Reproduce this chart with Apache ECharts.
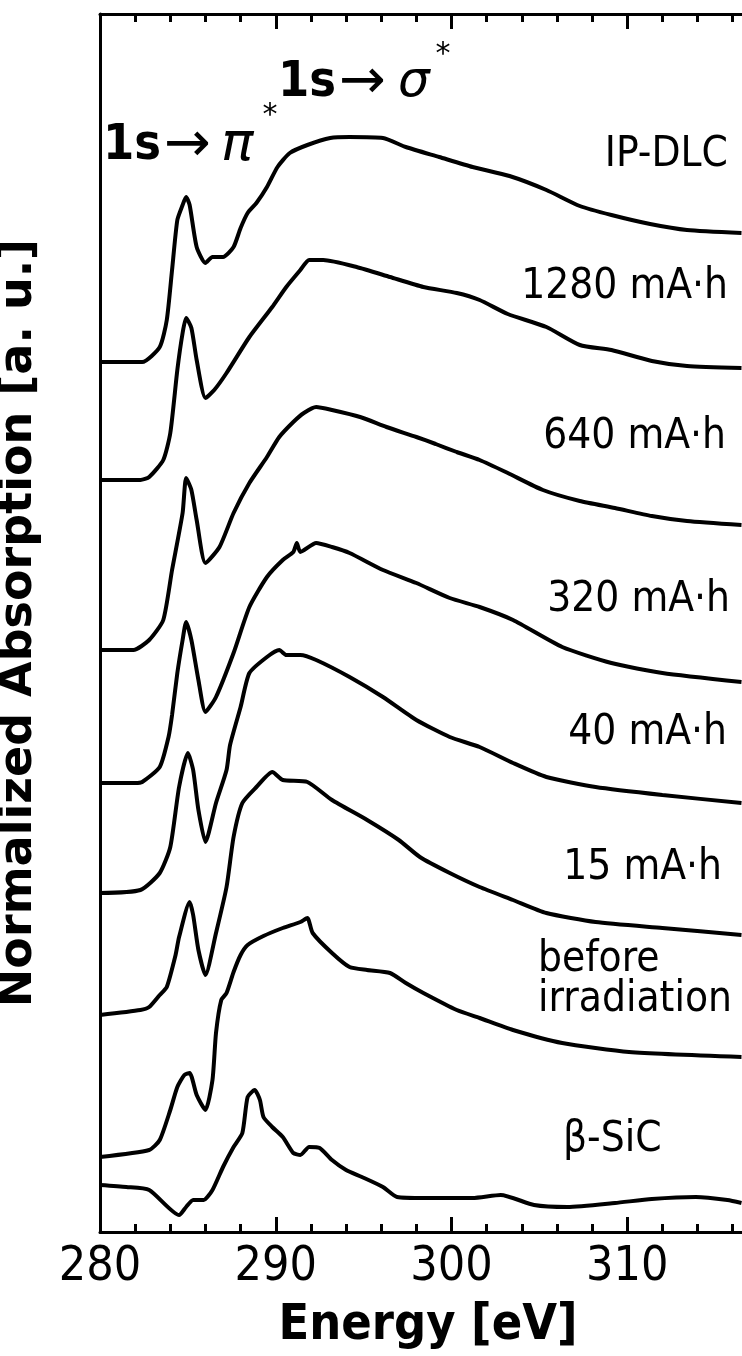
<!DOCTYPE html>
<html><head><meta charset="utf-8">
<script src="https://cdn.jsdelivr.net/npm/echarts@6/dist/echarts.min.js"></script>
<style>html,body{margin:0;padding:0;background:#fff}#c{width:742px;height:1356px}</style>
</head><body><div id="c"></div>
<script>
// Tick labels of the energy axis [eV]
const xTicks = [280, 290, 300, 310];
// Spectrum labels (top to bottom)
const labels = ['IP-DLC', '1280 mA·h', '640 mA·h', '320 mA·h', '40 mA·h', '15 mA·h', 'before\nirradiation', 'β-SiC'];

// Each spectrum: [energy eV, normalized absorption (offset), a.u.]
const ipdlc = [[280.0,8.70],[282.4,8.70],[283.4,8.85],[283.8,9.12],[284.1,9.62],[284.4,10.12],[284.7,10.27],[284.9,10.35],[285.1,10.27],[285.5,9.85],[286.0,9.69],[286.4,9.75],[287.0,9.75],[287.6,9.85],[288.0,10.04],[288.4,10.19],[288.9,10.29],[289.5,10.45],[290.1,10.65],[290.8,10.79],[291.8,10.87],[293.1,10.94],[294.2,10.95],[296.1,10.94],[297.4,10.85],[299.3,10.75],[301.2,10.65],[303.3,10.56],[305.4,10.42],[307.3,10.26],[309.1,10.17],[311.3,10.08],[313.4,10.02],[316.5,9.99]];
const mah1280 = [[280.0,7.52],[282.3,7.52],[282.8,7.55],[283.6,7.72],[284.0,7.99],[284.4,8.62],[284.7,8.99],[284.9,9.14],[285.2,9.04],[285.5,8.72],[286.0,8.34],[286.5,8.42],[287.2,8.59],[288.5,8.95],[289.8,9.25],[290.6,9.45],[291.4,9.62],[291.9,9.72],[292.7,9.72],[294.6,9.65],[296.5,9.55],[298.4,9.45],[300.3,9.39],[301.6,9.32],[303.2,9.18],[305.4,9.05],[307.3,8.87],[309.1,8.82],[311.4,8.71],[313.4,8.66],[316.5,8.64]];
const mah640 = [[280.0,5.82],[281.9,5.82],[282.8,5.92],[283.6,6.12],[284.1,6.62],[284.7,7.19],[284.9,7.54],[285.2,7.42],[285.5,7.12],[286.0,6.69],[286.8,6.85],[287.6,7.19],[288.5,7.49],[289.5,7.75],[290.2,7.95],[291.0,8.10],[291.6,8.19],[292.3,8.25],[293.2,8.22],[294.8,8.15],[296.3,8.05],[298.0,7.95],[299.1,7.88],[300.3,7.80],[301.6,7.72],[303.2,7.59],[305.2,7.42],[307.3,7.31],[309.3,7.24],[311.4,7.16],[313.4,7.11],[316.5,7.07]];
const mah320 = [[280.0,4.49],[282.0,4.49],[282.4,4.50],[283.4,4.65],[283.9,4.95],[284.1,5.17],[284.4,5.59],[284.7,5.92],[284.9,6.10],[285.2,5.92],[285.6,5.52],[286.0,5.20],[286.6,5.35],[287.6,5.79],[288.5,6.25],[289.5,6.55],[290.4,6.72],[291.0,6.80],[291.2,6.89],[291.4,6.80],[292.3,6.89],[293.2,6.85],[294.2,6.79],[296.1,6.62],[298.0,6.49],[299.9,6.34],[301.6,6.25],[303.5,6.12],[306.3,5.85],[309.1,5.69],[312.0,5.59],[316.5,5.50]];
const mah40 = [[280.0,3.39],[282.3,3.42],[283.4,3.59],[284.0,3.85],[284.5,4.45],[285.0,4.79],[285.3,4.62],[285.6,4.22],[286.0,3.90],[286.6,4.29],[287.2,4.62],[287.4,4.87],[288.0,5.25],[288.5,5.59],[289.5,5.75],[290.2,5.82],[290.6,5.77],[291.4,5.77],[292.3,5.72],[294.2,5.55],[296.1,5.35],[298.0,5.12],[299.9,4.95],[301.6,4.85],[303.5,4.69],[305.4,4.55],[308.2,4.45],[312.0,4.37],[316.5,4.29]];
const mah15 = [[280.0,2.17],[282.3,2.22],[282.8,2.25],[283.4,2.37],[283.8,2.45],[284.3,2.77],[284.5,2.95],[285.1,3.30],[285.3,3.17],[285.6,2.82],[286.0,2.57],[286.6,2.99],[287.2,3.45],[287.6,3.95],[288.1,4.29],[288.9,4.45],[289.8,4.60],[290.4,4.52],[291.8,4.50],[293.2,4.32],[295.2,4.12],[297.0,3.92],[298.2,3.75],[299.9,3.59],[301.6,3.45],[303.5,3.32],[305.4,3.19],[308.2,3.10],[312.0,3.04],[316.5,2.97]];
const beforeIrr = [[280.0,0.75],[282.8,0.82],[283.4,0.92],[284.0,1.22],[284.4,1.45],[284.8,1.57],[285.1,1.59],[285.5,1.37],[286.0,1.22],[286.4,1.52],[286.6,1.99],[286.9,2.32],[287.2,2.39],[287.6,2.60],[288.0,2.77],[288.4,2.87],[289.3,2.96],[290.4,3.04],[291.4,3.10],[291.8,3.14],[292.1,2.99],[293.2,2.79],[294.2,2.65],[295.2,2.62],[296.5,2.59],[297.4,2.49],[298.4,2.39],[300.3,2.22],[301.6,2.14],[303.5,2.02],[306.3,1.89],[310.1,1.80],[316.5,1.75]];
const betaSiC = [[280.0,0.47],[281.5,0.45],[282.8,0.42],[284.5,0.17],[284.9,0.25],[285.3,0.32],[285.9,0.32],[286.4,0.42],[287.0,0.65],[287.6,0.85],[288.1,0.99],[288.4,1.35],[288.8,1.42],[289.1,1.32],[289.3,1.15],[289.8,1.05],[290.4,0.95],[291.0,0.79],[291.4,0.77],[291.9,0.85],[292.5,0.84],[293.2,0.72],[294.0,0.62],[294.9,0.55],[296.1,0.45],[296.9,0.35],[298.5,0.34],[301.2,0.34],[302.8,0.37],[304.7,0.27],[306.6,0.25],[309.3,0.29],[311.4,0.33],[313.9,0.35],[315.7,0.32],[316.5,0.29]];

const spectra = [ipdlc, mah1280, mah640, mah320, mah40, mah15, beforeIrr, betaSiC];

const chart = echarts.init(document.getElementById('c'), null, {renderer: 'canvas'});
const cond = '"DejaVu Sans Condensed", "DejaVu Sans", sans-serif';
const axBase = {
  type: 'value', min: 280, max: 320, interval: 10,
  splitLine: {show: false},
  axisLine: {onZero: false, lineStyle: {color: '#000', width: 3}},
  axisTick: {inside: true, length: 15, lineStyle: {color: '#000', width: 3}},
  minorTick: {show: true, splitNumber: 5, length: 8, lineStyle: {color: '#000', width: 3}}
};
const labelPos = [
  {x: 728, y: 155, align: 'right'},
  {x: 728, y: 287, align: 'right'},
  {x: 726, y: 437, align: 'right'},
  {x: 730, y: 600, align: 'right'},
  {x: 727, y: 733, align: 'right'},
  {x: 722, y: 868, align: 'right'},
  {x: 538, y: 980, align: 'left'},
  {x: 563, y: 1140, align: 'left'}
];
const graphics = labels.map((t, i) => ({
  type: 'text', x: labelPos[i].x, y: labelPos[i].y,
  style: {text: t, fill: '#000', font: '42px ' + cond, textAlign: labelPos[i].align, textVerticalAlign: 'middle', lineHeight: 40}
}));
graphics.push(
  {type: 'text', x: 428, y: 1326, style: {text: 'Energy [eV]', fill: '#000', font: 'bold 50px ' + cond, textAlign: 'center', textVerticalAlign: 'middle'}},
  {type: 'text', x: 103, y: 146, style: {
    text: '{b|1s}{a|→}{p|π}', textVerticalAlign: 'middle', textAlign: 'left',
    rich: {
      b: {font: 'bold 50px ' + cond, fill: '#000'},
      a: {font: '56px "DejaVu Sans"', fill: '#000', padding: [0, 10, 0, 3]},
      p: {font: 'italic 54px "DejaVu Sans"', fill: '#000'}
    }}},
  {type: 'text', x: 270, y: 116, style: {text: '*', font: '30px "DejaVu Sans"', fill: '#000', textAlign: 'center', textVerticalAlign: 'middle'}},
  {type: 'text', x: 278, y: 83, style: {
    text: '{b|1s}{a|→}{p|σ}', textVerticalAlign: 'middle', textAlign: 'left',
    rich: {
      b: {font: 'bold 50px ' + cond, fill: '#000'},
      a: {font: '56px "DejaVu Sans"', fill: '#000', padding: [0, 12, 0, 3]},
      p: {font: 'italic 50px "DejaVu Sans"', fill: '#000'}
    }}},
  {type: 'text', x: 443, y: 55, style: {text: '*', font: '30px "DejaVu Sans"', fill: '#000', textAlign: 'center', textVerticalAlign: 'middle'}}
);

chart.setOption({
  backgroundColor: '#fff',
  animation: false,
  grid: {left: 100, top: 14, width: 703, height: 1218, outerBoundsMode: 'none'},
  xAxis: [
    Object.assign({}, axBase, {
      position: 'bottom',
      axisLabel: {color: '#000', fontSize: 48, fontFamily: cond, margin: 12,
        formatter: v => (xTicks.indexOf(v) >= 0 ? String(v) : '')}
    }),
    Object.assign({}, axBase, {position: 'top', axisLabel: {show: false}})
  ],
  yAxis: {
    type: 'value', min: 0, max: 12.18,
    axisLine: {show: true, onZero: false, lineStyle: {color: '#000', width: 3}},
    axisTick: {show: false}, axisLabel: {show: false}, splitLine: {show: false},
    name: 'Normalized Absorption [a. u.]', nameLocation: 'middle', nameRotate: 90, nameGap: 58,
    nameTextStyle: {color: '#000', fontSize: 46, fontWeight: 'bold', fontFamily: '"DejaVu Sans", sans-serif'}
  },
  series: spectra.map((d, i) => ({
    name: labels[i], type: 'line', data: d, xAxisIndex: 0,
    showSymbol: false, smooth: 0.2, silent: true,
    lineStyle: {color: '#000', width: 4}
  })),
  graphic: graphics
});
</script>
</body></html>
